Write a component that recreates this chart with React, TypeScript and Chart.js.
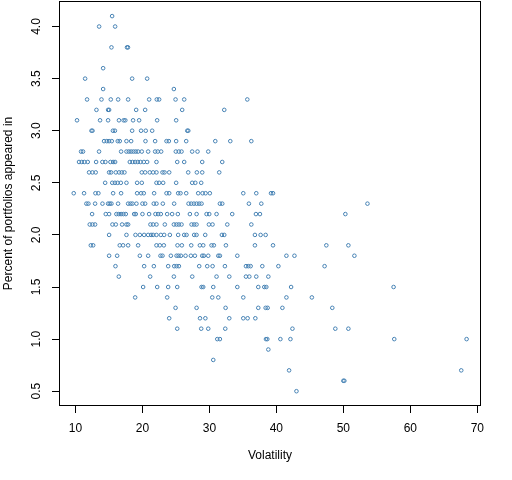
import React, { useEffect, useRef } from 'react';
import { Chart, registerables, Plugin } from 'chart.js';

Chart.register(...registerables);

// y values sit on a 0.1 grid, so the points are kept row by row
const percentLevels = [
  4.1, 4.0, 3.9, 3.8, 3.7, 3.6, 3.5, 3.4, 3.3, 3.2, 3.1, 3.0, 2.9, 2.8, 2.7, 2.6, 2.5, 2.4,
  2.3, 2.2, 2.1, 2.0, 1.9, 1.8, 1.7, 1.6, 1.5, 1.4, 1.3, 1.2, 1.1, 1.0, 0.9, 0.8, 0.7, 0.6, 0.5,
];

const volatilityAtLevel: number[][] = [
  [15.48],
  [13.54, 15.93],
  [],
  [15.38, 17.7, 17.85],
  [],
  [14.14],
  [11.45, 18.47, 20.71],
  [14.14, 24.7],
  [11.74, 13.89, 15.28, 16.38, 17.87, 21.01, 22.15, 22.5, 24.95, 26.24, 35.66],
  [13.14, 14.88, 15.03, 19.07, 20.41, 25.94, 32.22],
  [10.24, 13.68, 14.88, 16.5, 17.2, 17.45, 18.61, 19.51, 22.2, 25.04],
  [12.4, 12.55, 15.6, 15.9, 18.47, 19.8, 20.5, 21.46, 26.7, 26.85],
  [14.28, 14.68, 15.03, 15.43, 16.32, 16.62, 17.62, 18.32, 20.46, 21.9, 23.6, 23.95, 25.04, 26.54, 30.88, 33.12, 36.26],
  [10.84, 11.14, 13.53, 16.82, 17.62, 17.97, 18.32, 18.67, 19.01, 19.36, 19.91, 20.86, 21.9, 22.3, 22.8, 24.99, 25.44,
    25.84, 27.43, 28.23, 29.83],
  [10.54, 10.94, 11.34, 11.84, 13.09, 14.03, 14.48, 15.23, 15.63, 15.93, 18.12, 18.52, 18.92, 19.31, 19.71, 20.21, 20.71,
    22.1, 25.2, 26.24, 28.93, 31.92],
  [12.04, 12.54, 13.03, 15.03, 15.33, 16.03, 16.52, 16.92, 17.32, 19.91, 20.41, 21.1, 21.6, 22.1, 23.0, 23.3, 24.0,
    26.84, 28.13, 28.93, 31.47],
  [14.44, 15.5, 15.9, 16.3, 16.78, 17.62, 19.21, 19.91, 22.1, 22.5, 23.1, 25.04, 27.43, 27.9, 28.78],
  [9.75, 11.29, 12.99, 13.43, 15.63, 16.82, 19.21, 19.81, 20.21, 21.75, 23.6, 24.0, 25.34, 25.69, 26.54, 28.33, 28.98,
    29.43, 30.07, 35.06, 37.0, 39.2, 39.5],
  [11.64, 11.94, 12.94, 14.04, 14.88, 15.13, 15.38, 16.37, 17.87, 18.22, 18.52, 19.11, 20.01, 20.41, 21.7, 22.1, 23.05,
    24.74, 26.89, 27.29, 27.69, 28.09, 28.48, 28.83, 31.57, 31.92, 35.9, 37.75, 53.6],
  [12.49, 14.53, 15.03, 16.12, 16.47, 16.82, 17.17, 17.52, 18.77, 19.01, 20.01, 21.0, 21.95, 22.35, 22.75, 23.7, 24.44,
    25.29, 27.09, 28.09, 29.58, 29.98, 31.07, 33.41, 36.95, 37.55, 50.3],
  [12.14, 12.54, 12.94, 15.53, 16.03, 16.97, 17.62, 17.87, 21.2, 21.6, 22.1, 23.35, 24.7, 25.09, 25.44, 25.84, 27.34,
    27.73, 28.08, 29.93, 30.47, 32.67, 36.26],
  [15.03, 17.62, 18.97, 19.62, 20.26, 20.86, 21.3, 21.6, 22.1, 22.75, 23.25, 24.1, 25.34, 26.24, 26.59, 27.73, 28.08,
    29.38, 31.87, 32.22, 36.8, 37.65, 38.4],
  [12.3, 12.65, 16.62, 17.12, 17.87, 19.36, 22.1, 22.6, 23.2, 25.24, 25.89, 27.29, 28.58, 29.08, 30.32, 30.67, 32.47,
    36.8, 39.5, 47.46, 50.75],
  [15.03, 16.23, 19.62, 20.86, 22.7, 23.0, 24.25, 25.1, 25.4, 25.75, 26.44, 27.24, 27.84, 28.93, 29.18, 29.83, 31.33,
    31.57, 34.17, 41.5, 42.7, 51.65],
  [15.98, 20.26, 21.71, 23.85, 24.75, 25.1, 25.45, 28.48, 29.68, 30.48, 32.32, 35.46, 35.81, 36.16, 37.9, 40.3, 47.2],
  [16.48, 21.16, 24.7, 27.44, 31.07, 32.97, 35.46, 35.96, 37.0, 38.8],
  [20.11, 22.21, 23.85, 25.2, 28.83, 29.08, 30.58, 34.17, 37.3, 38.2, 38.5, 42.2, 57.5],
  [18.92, 23.7, 30.43, 31.33, 35.06, 41.5, 45.3],
  [24.95, 28.09, 32.42, 37.3, 38.4, 38.7, 40.9, 48.35],
  [24.0, 28.6, 29.4, 32.97, 35.06, 35.71, 36.86],
  [25.2, 28.78, 29.83, 32.37, 42.4, 48.8, 50.75],
  [31.18, 31.57, 38.45, 38.65, 40.6, 42.1, 57.6, 68.4],
  [38.8],
  [30.58],
  [41.9, 67.6],
  [50.0, 50.15],
  [43.0],
];

const volatilityTicks = [10, 20, 30, 40, 50, 60, 70];
const percentTicks = [0.5, 1.0, 1.5, 2.0, 2.5, 3.0, 3.5, 4.0];

const FONT = { family: "'Liberation Sans', Arial, sans-serif", size: 12 };

// R-style box around the plot region
const plotBox: Plugin<'scatter'> = {
  id: 'plotBox',
  afterDraw(chart) {
    const { ctx, chartArea } = chart;
    const l = Math.round(chartArea.left) + 0.5;
    const t = Math.round(chartArea.top) + 0.5;
    const r = Math.round(chartArea.right) - 0.5;
    const b = Math.round(chartArea.bottom) - 0.5;
    ctx.save();
    ctx.strokeStyle = '#000';
    ctx.lineWidth = 1;
    ctx.strokeRect(l, t, r - l, b - t);
    ctx.restore();
  },
};

const App: React.FC = () => {
  const canvasRef = useRef<HTMLCanvasElement>(null);
  const chartRef = useRef<Chart<'scatter'> | null>(null);

  useEffect(() => {
    const ctx = canvasRef.current?.getContext('2d');
    if (!ctx) return;

    const points = percentLevels.flatMap((p, i) =>
      volatilityAtLevel[i].map((v) => ({ x: v, y: p }))
    );

    chartRef.current = new Chart(ctx, {
      type: 'scatter',
      data: {
        datasets: [{
          data: points,
          pointStyle: 'circle',
          pointRadius: 1.8,
          pointBorderWidth: 1,
          borderColor: '#4682B4',
          backgroundColor: 'rgba(0,0,0,0)',
          pointHoverRadius: 1.8,
        }],
      },
      options: {
        responsive: false,
        animation: false,
        events: [],
        layout: { padding: { top: 1, right: 31, bottom: 0, left: 0 }, autoPadding: false },
        plugins: { legend: { display: false }, tooltip: { enabled: false } },
        scales: {
          x: {
            type: 'linear',
            min: 7.55,
            max: 70.55,
            afterBuildTicks: (scale) => { scale.ticks = volatilityTicks.map((v) => ({ value: v })); },
            afterFit: (scale) => {
              scale.height = 74;
              scale.paddingLeft = 0;
              scale.paddingRight = 0;
            },
            border: { display: false },
            grid: { drawOnChartArea: false, drawTicks: true, tickLength: 7, color: '#000', lineWidth: 1 },
            ticks: { color: '#000', font: FONT, padding: 8.3, maxRotation: 0, autoSkip: false },
            title: { display: true, text: 'Volatility', color: '#000', font: FONT, padding: { top: 0, bottom: 16.7 } },
          },
          y: {
            type: 'linear',
            min: 0.358,
            max: 4.245,
            afterBuildTicks: (scale) => { scale.ticks = percentTicks.map((v) => ({ value: v })); },
            afterFit: (scale) => {
              scale.width = 59;
              scale.paddingTop = 0;
              scale.paddingBottom = 0;
            },
            border: { display: false },
            grid: { drawOnChartArea: false, drawTicks: true, tickLength: 7, color: '#000', lineWidth: 1 },
            ticks: {
              color: '#000',
              font: FONT,
              padding: 6.9,
              minRotation: 90,
              maxRotation: 90,
              crossAlign: 'center',
              autoSkip: false,
              callback: (v) => Number(v).toFixed(1),
            },
            title: {
              display: true,
              text: 'Percent of portfolios appeared in',
              color: '#000',
              font: FONT,
              padding: { top: 1.25, bottom: 0 },
            },
          },
        },
      },
      plugins: [plotBox],
    });

    return () => {
      chartRef.current?.destroy();
    };
  }, []);

  return (
    <div style={{ position: 'fixed', left: 0, top: 0, width: 512, height: 480, background: '#fff' }}>
      <canvas ref={canvasRef} width={512} height={480} style={{ display: 'block' }} />
    </div>
  );
};

export default App;
